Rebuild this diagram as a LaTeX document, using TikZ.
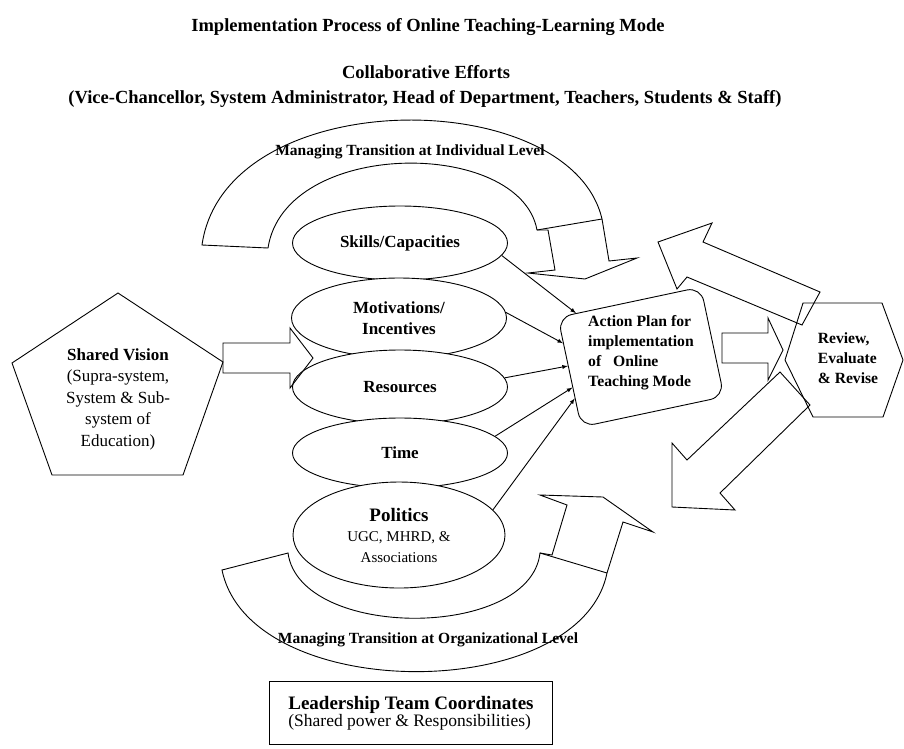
\documentclass[tikz,border=0pt]{standalone}
\usepackage{fontspec}
\setmainfont{Liberation Serif}
\usetikzlibrary{shapes}
\usetikzlibrary{shapes.misc}

\begin{document}
\begin{tikzpicture}[x=1pt, y=-1pt, line width=0.9pt,
  oval/.style={ellipse, draw, fill=white, minimum width=215pt, inner sep=0pt, align=center, font=\fontsize{17}{21}\selectfont\bfseries},
  band/.style={draw, fill=white, line join=miter},
  head/.style={font=\fontsize{18.5}{22}\selectfont\bfseries},
  bandlabel/.style={font=\fontsize{15.5}{18}\selectfont\bfseries}]
  \useasboundingbox (0,0) rectangle (904,748);

  % titles
  \node[head] at (428, 27) (title) {Implementation Process of Online Teaching-Learning Mode};
  \node[head] at (426, 72) (collab) {Collaborative Efforts};
  \node[head] at (425, 99) (members) {(Vice-Chancellor, System Administrator, Head of Department, Teachers, Students \& Staff)};

  % curved band arrows
  \draw[band] (202,245) .. controls (225,83) and (570,83) .. (602,219) -- (609,261) -- (637,258) -- (585,279)
    -- (528,273) -- (555,270) -- (548,230) -- (537,230) .. controls (520,138) and (285,138) .. (268,248) -- cycle;
  \draw (537,230) -- (602,219);
  \draw[band] (222,570) .. controls (250,705) and (580,705) .. (607,573) -- (623,522) -- (653,532) -- (603,497)
    -- (540,495) -- (567,505) -- (552,555) -- (540,553) .. controls (530,640) and (300,640) .. (288,553) -- cycle;
  \draw (540,553) -- (607,573);
  \node[bandlabel] at (410,152) (indiv) {Managing Transition at Individual Level};
  \node[bandlabel] at (428,640) (organ) {Managing Transition at Organizational Level};

  % factors
  \node[oval, minimum height=74pt] at (400,243) (skills) {Skills/Capacities};
  \node[oval, minimum height=80pt] at (399,318) (motiv) {Motivations/\\Incentives};
  \node[oval, minimum height=74pt] at (400,387) (resources) {Resources};
  \node[oval, minimum height=70pt] at (400,453) (time) {Time};
  \node[oval, minimum height=106pt, minimum width=212pt, font=\fontsize{15}{20.5}\selectfont] at (399,535) (politics)
    {{\fontsize{19}{20.5}\selectfont\bfseries Politics}\\UGC, MHRD, \&\\Associations};

  % shared vision
  \draw (118,293) -- (223,362) -- (183,475) -- (52,475) -- (12,363) -- cycle;
  \node[align=center, font=\fontsize{17}{21.5}\selectfont] at (118,399) (vision)
    {\textbf{Shared Vision}\\(Supra-system,\\System \& Sub-\\system of\\Education)};
  \draw[line join=miter] (223,343) -- (290,343) -- (290,328) -- (313,358) -- (290,388) -- (290,373) -- (223,373) -- cycle;

  % action plan
  \node[draw, fill=white, rounded corners=14pt, rotate=12, minimum width=146pt, minimum height=112pt] at (641,357) (plan) {};
  \node[align=left, font=\fontsize{15.7}{20}\selectfont\bfseries] at (641,353) (plantext)
    {Action Plan for\\implementation\\of \ \ Online\\Teaching Mode};
  \draw[-latex] (skills.-7) -- (plan.134);
  \draw[-latex] (motiv.3) -- (plan.158);
  \draw[-latex] (resources.5) -- (plan.175);
  \draw[-latex] (time.10) -- (plan.192);
  \draw[-latex] (politics.15) -- (plan.200);
  \draw[line join=miter] (722,333) -- (768,333) -- (768,318) -- (783,350) -- (768,380) -- (768,363) -- (722,363) -- cycle;

  % review
  \draw (803,303) -- (882,303) -- (903,360) -- (883,417) -- (813,417) -- (785,360) -- cycle;
  \node[align=left, font=\fontsize{15.6}{20}\selectfont\bfseries] at (848,358) (review) {Review,\\Evaluate\\\& Revise};
  \draw[line join=miter] (658,242) -- (712,223) -- (703,242) -- (820,292) -- (802,325) -- (687,277) -- (677,289) -- cycle;
  \draw[line join=miter] (780,372) -- (810,405) -- (720,493) -- (735,510) -- (672,507) -- (672,443) -- (687,460) -- cycle;

  % leadership
  \node[draw, minimum width=283pt, minimum height=63pt, align=left] at (411,713) (lead)
    {{\fontsize{19}{20}\selectfont\bfseries Leadership Team Coordinates}\\{\fontsize{17.5}{20}\selectfont (Shared power \& Responsibilities)}};
\end{tikzpicture}
\end{document}
